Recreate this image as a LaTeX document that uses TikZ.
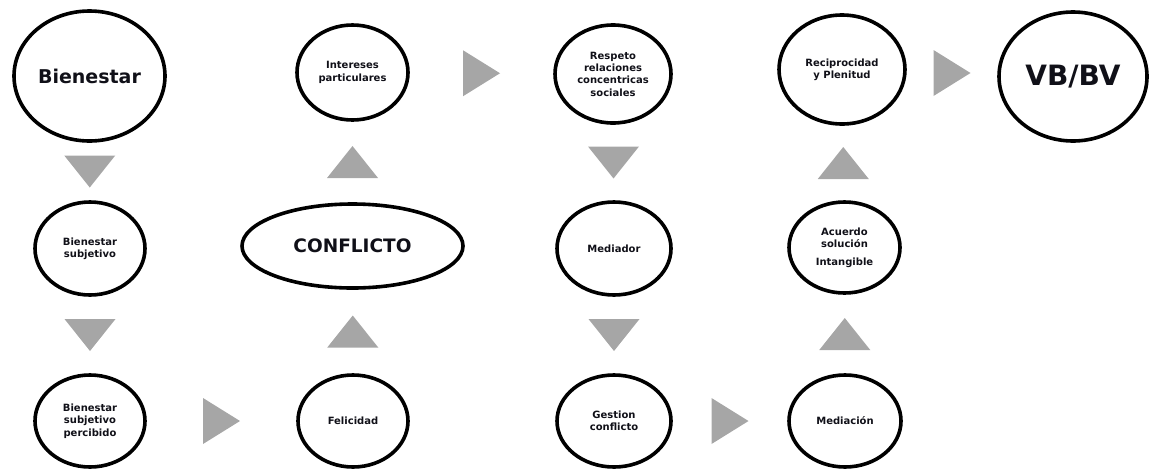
\documentclass[tikz,border=0pt]{standalone}
\usepackage{fontspec}
\setmainfont{DejaVu Sans}
\usetikzlibrary{shapes.geometric,calc}
\definecolor{arrowgray}{HTML}{A6A6A6}
\definecolor{txt}{HTML}{101018}
\newcommand\tridn[1]{\fill[tri] ($(#1)+(-25.5,-16)$) -- ($(#1)+(25.5,-16)$) -- ($(#1)+(0,16)$) -- cycle;}
\newcommand\triup[1]{\fill[tri] ($(#1)+(-25.5,16)$) -- ($(#1)+(25.5,16)$) -- ($(#1)+(0,-16)$) -- cycle;}
\newcommand\trirt[1]{\fill[tri] ($(#1)+(-18.5,-23)$) -- ($(#1)+(-18.5,23)$) -- ($(#1)+(18.5,0)$) -- cycle;}
\begin{document}
\begin{tikzpicture}[x=1pt,y=-1pt,
  oval/.style={ellipse,draw=black,line width=3.6pt,inner sep=0pt,align=center,text=txt,
    font=\bfseries\fontsize{10}{12.3}\selectfont},
  bigtext/.style={font=\bfseries\fontsize{19}{22}\selectfont},
  tri/.style={fill=arrowgray,draw=none}]
\useasboundingbox (0,0) rectangle (1150,469);
% column 1
\node[oval,bigtext,minimum width=151pt,minimum height=130pt] (bien) at (89.5,76) {Bienestar};
\node[oval,minimum width=110pt,minimum height=93pt] (bs) at (90,248.5) {Bienestar\\subjetivo};
\node[oval,minimum width=110pt,minimum height=92pt] (bsp) at (90,421) {Bienestar\\subjetivo\\percibido};
% column 2
\node[oval,minimum width=110pt,minimum height=92pt] (fel) at (353,421) {Felicidad};
\node[oval,font=\bfseries\fontsize{18.5}{22}\selectfont,minimum width=221pt,minimum height=84pt] (conf) at (352.5,246) {CONFLICTO};
\node[oval,minimum width=111pt,minimum height=95pt] (int) at (352.5,72.5) {Intereses\\particulares};
% column 3
\node[oval,minimum width=116pt,minimum height=98pt] (resp) at (613,74) {Respeto\\relaciones\\concentricas\\sociales};
\node[oval,minimum width=114pt,minimum height=93pt] (med) at (614,248.5) {Mediador};
\node[oval,minimum width=114pt,minimum height=92pt] (gest) at (614,421) {Gestion\\conflicto};
% column 4
\node[oval,minimum width=112pt,minimum height=92pt] (medn) at (845,421) {Mediación};
\node[oval,minimum width=111pt,minimum height=91pt] (acu) at (844.5,247.5) {Acuerdo\\solución\\[5pt]Intangible};
\node[oval,minimum width=126pt,minimum height=109pt] (rec) at (842,69.5) {Reciprocidad\\y Plenitud};
% column 5
\node[oval,font=\bfseries\fontsize{28}{32}\selectfont,minimum width=148pt,minimum height=129pt] (vb) at (1073,76.5) {VB/BV};
% arrow positions
\coordinate (a1) at ($(bien.south)!0.5!(bs.north)$);
\coordinate (a2) at ($(bs.south)!0.5!(bsp.north)$);
\coordinate (a3) at ($(bsp.east)!0.5!(fel.west)$);
\coordinate (a4) at ($(fel.north)!0.5!(conf.south)$);
\coordinate (a5) at ($(conf.north)!0.5!(int.south)$);
\coordinate (a6) at ($(int.east)!0.5!(resp.west)$);
\coordinate (a7) at ($(resp.south)!0.5!(med.north)$);
\coordinate (a8) at ($(med.south)!0.5!(gest.north)$);
\coordinate (a9) at ($(gest.east)!0.5!(medn.west)$);
\coordinate (a10) at ($(medn.north)!0.5!(acu.south)$);
\coordinate (a11) at ($(acu.north)!0.5!(rec.south)$);
\coordinate (a12) at ($(rec.east)!0.5!(vb.west)$);
\tridn{a1}
\tridn{a2}
\trirt{a3}
\triup{a4}
\triup{a5}
\trirt{a6}
\tridn{a7}
\tridn{a8}
\trirt{a9}
\triup{a10}
\triup{a11}
\trirt{a12}
\end{tikzpicture}
\end{document}
